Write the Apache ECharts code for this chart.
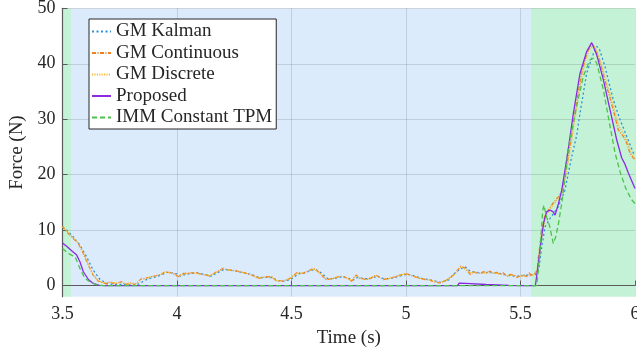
<!DOCTYPE html>
<html>
<head>
<meta charset="utf-8">
<script src="https://cdn.jsdelivr.net/npm/echarts@6/dist/echarts.min.js"></script>
<style>html,body{margin:0;padding:0;background:#fff;}#c{width:637px;height:350px;}</style>
</head>
<body>
<div id="c"></div>
<script>
// ---- data ----
const seriesNames = ['GM Kalman', 'GM Continuous', 'GM Discrete', 'Proposed', 'IMM Constant TPM'];
const xTicks = [3.5, 4, 4.5, 5, 5.5, 6];
const yTicks = [0, 10, 20, 30, 40, 50];
// background regions [start, end] in seconds
const greenRegions = [[3.5, 3.537], [5.546, 6.0]];
const blueRegions = [[3.537, 5.546]];

const tContinuous = [3.500,3.518,3.547,3.569,3.591,3.613,3.634,3.656,3.678,3.693,3.707,3.722,3.737,3.749,3.759,3.770,3.780,3.792,3.802,3.813,3.824,3.835,3.846,3.857,3.868,3.883,3.897,3.912,3.926,3.937,3.948,3.962,3.977,3.991,4.006,4.017,4.028,4.042,4.064,4.086,4.100,4.115,4.130,4.144,4.158,4.173,4.188,4.202,4.217,4.231,4.253,4.275,4.297,4.319,4.337,4.355,4.373,4.392,4.414,4.425,4.435,4.450,4.464,4.479,4.493,4.508,4.523,4.537,4.552,4.566,4.581,4.595,4.610,4.624,4.638,4.653,4.668,4.683,4.697,4.712,4.727,4.741,4.752,4.763,4.772,4.782,4.790,4.799,4.814,4.828,4.848,4.869,4.885,4.901,4.915,4.930,4.952,4.974,4.985,4.996,5.014,5.032,5.046,5.061,5.083,5.105,5.119,5.134,5.148,5.163,5.178,5.192,5.207,5.218,5.228,5.239,5.250,5.261,5.272,5.281,5.294,5.308,5.323,5.337,5.352,5.366,5.381,5.395,5.410,5.425,5.440,5.455,5.469,5.484,5.498,5.512,5.527,5.538,5.549,5.556,5.563,5.573,5.578,5.593,5.607,5.621,5.643,5.665,5.680,5.694,5.709,5.723,5.738,5.752,5.767,5.781,5.796,5.814,5.826,5.840,5.858,5.876,5.891,5.905,5.927,5.949,5.964,5.978,5.993,6.000];
const vContinuous = [10.7,9.7,8.5,7.6,5.8,3.7,1.9,0.8,0.5,0.3,0.7,0.4,0.4,0.6,0.7,0.3,0.2,0.5,0.5,0.2,0.4,0.9,1.3,1.2,1.4,1.5,1.7,1.8,2.0,2.2,2.5,2.4,2.3,2.0,1.6,1.9,2.2,2.2,2.3,2.3,2.1,2.0,1.9,1.7,2.1,2.5,2.8,3.1,2.9,2.8,2.7,2.5,2.3,2.0,1.7,1.3,1.5,1.6,1.6,1.2,0.8,0.9,0.8,1.0,1.3,1.8,2.3,2.3,2.2,2.5,2.8,3.1,2.8,2.2,1.6,1.0,1.2,1.3,1.5,1.7,1.6,1.4,1.1,0.8,1.4,1.9,1.6,1.3,1.2,1.1,1.4,1.9,1.5,1.1,1.2,1.3,1.6,1.9,2.0,2.2,2.0,1.7,1.5,1.3,1.1,1.0,0.7,0.6,0.5,0.7,1.0,1.5,1.9,2.5,2.9,3.5,3.3,3.1,2.5,2.0,2.5,2.3,2.2,2.5,2.3,2.6,2.2,2.4,2.0,2.3,1.7,2.0,1.9,1.5,1.7,2.0,1.6,2.3,1.7,1.8,2.2,2.8,5.0,10.0,12.7,13.6,14.9,16.0,16.9,19.6,23.3,27.0,31.1,34.8,38.3,40.6,42.5,43.5,42.8,41.3,38.7,35.9,33.8,31.7,28.1,26.9,25.7,23.9,23.0,22.7];

const tDiscrete = [3.500,3.518,3.547,3.569,3.591,3.613,3.634,3.656,3.678,3.707,3.737,3.759,3.780,3.802,3.824,3.846,3.868,3.897,3.926,3.948,3.977,4.006,4.028,4.064,4.100,4.144,4.173,4.202,4.231,4.275,4.319,4.355,4.392,4.414,4.435,4.464,4.493,4.523,4.552,4.581,4.595,4.624,4.653,4.683,4.712,4.741,4.763,4.782,4.799,4.828,4.869,4.901,4.930,4.974,4.996,5.032,5.061,5.105,5.148,5.178,5.207,5.228,5.239,5.250,5.272,5.294,5.323,5.352,5.381,5.410,5.440,5.469,5.498,5.527,5.549,5.563,5.573,5.580,5.595,5.609,5.623,5.645,5.667,5.682,5.696,5.711,5.725,5.740,5.754,5.769,5.783,5.798,5.816,5.828,5.842,5.860,5.878,5.893,5.907,5.929,5.951,5.966,5.980,5.995,6.000];
const vDiscrete = [10.6,9.8,8.6,7.7,5.9,3.8,2.0,0.9,0.5,0.6,0.5,0.6,0.3,0.4,0.4,1.2,1.4,1.7,2.0,2.4,2.3,1.7,2.1,2.3,2.1,1.8,2.4,3.0,2.8,2.5,2.0,1.4,1.6,1.5,0.9,0.9,1.3,2.2,2.3,2.8,3.0,2.2,1.1,1.3,1.7,1.4,0.9,1.8,1.3,1.1,1.8,1.2,1.3,1.9,2.1,1.7,1.3,1.0,0.6,1.0,1.8,2.8,3.4,3.2,2.4,2.4,2.2,2.3,2.3,2.1,1.8,1.9,1.7,1.7,1.8,2.1,2.6,4.5,9.2,12.2,13.4,14.7,15.8,16.8,19.3,23.0,26.6,30.6,34.4,37.9,40.3,42.3,43.3,42.7,41.4,38.9,36.3,34.3,32.2,28.8,27.4,26.1,24.2,23.2,22.8];

const tKalman = [3.500,3.518,3.547,3.576,3.605,3.634,3.664,3.693,3.720,3.750,3.780,3.810,3.835,3.850,3.868,3.890,3.912,3.935,3.958,3.980,4.000,4.015,4.035,4.060,4.090,4.120,4.150,4.180,4.205,4.230,4.260,4.290,4.325,4.360,4.395,4.420,4.440,4.470,4.500,4.530,4.560,4.590,4.605,4.630,4.660,4.690,4.720,4.750,4.770,4.790,4.810,4.840,4.875,4.905,4.935,4.980,5.005,5.040,5.070,5.110,5.150,5.185,5.207,5.236,5.258,5.280,5.300,5.330,5.360,5.390,5.420,5.450,5.480,5.510,5.540,5.565,5.580,5.593,5.607,5.629,5.665,5.694,5.724,5.745,5.760,5.789,5.818,5.833,5.845,5.869,5.905,5.935,5.964,5.993,6.000];
const vKalman = [10.5,10.0,8.8,7.3,5.2,2.8,1.1,0.4,0.2,0.2,0.2,0.1,0.3,0.7,1.1,1.4,1.6,2.0,2.4,2.3,2.1,1.7,2.0,2.2,2.3,2.0,1.7,2.4,2.9,2.8,2.6,2.3,2.0,1.4,1.5,1.4,0.9,0.8,1.2,2.1,2.3,2.8,2.9,2.3,1.2,1.3,1.6,1.3,1.0,1.5,1.3,1.2,1.7,1.2,1.3,1.8,2.1,1.7,1.3,1.0,0.6,1.0,2.0,3.0,3.4,2.6,2.4,2.3,2.4,2.3,2.1,1.8,1.7,1.8,1.9,2.0,3.0,7.0,10.6,12.1,14.2,17.2,23.3,27.0,31.1,38.3,41.8,43.1,42.6,39.5,33.5,29.9,26.9,23.9,23.6];

const tProposed = [3.500,3.518,3.540,3.562,3.576,3.591,3.613,3.634,3.660,3.690,5.225,5.232,5.260,5.350,5.450,5.500,5.565,5.578,5.592,5.602,5.614,5.629,5.643,5.651,5.666,5.680,5.695,5.710,5.731,5.760,5.789,5.811,5.833,5.862,5.891,5.920,5.942,5.955,5.971,6.000];
const vProposed = [7.7,7.1,6.3,5.5,4.3,2.5,1.1,0.4,0.05,0,0,0.45,0.4,0.2,0.05,0,0,4.0,8.8,11.5,13.3,13.6,13.3,12.7,14.8,17.2,21.0,25.0,31.1,38.3,42.2,43.8,41.6,37.1,31.7,26.3,23.0,22.0,20.3,17.5];

const tIMM = [3.500,3.525,3.555,3.576,3.598,3.627,3.656,3.690,5.571,5.585,5.597,5.602,5.614,5.628,5.643,5.654,5.665,5.680,5.695,5.710,5.745,5.774,5.803,5.818,5.833,5.862,5.891,5.913,5.935,5.960,5.985,6.000];
const vIMM = [6.7,5.8,5.2,3.1,1.3,0.5,0.05,0,0,6.0,13.5,14.5,12.4,10.6,7.6,8.8,11.0,14.8,19.6,25.0,32.3,37.7,40.7,41.0,40.1,35.3,28.7,23.9,20.5,17.5,15.5,14.8];

// ---- chart ----
function pairs(t, v) { return t.map((x, i) => [x, v[i]]); }
const FONT = 'Liberation Serif';
const TXT = '#262626';

const styles = [
  { color: '#2f8fd8', type: [2, 2.5], width: 1.3 },
  { color: '#f07f1f', type: [4, 1.5, 1, 1.5], width: 1.3 },
  { color: '#f2bd3a', type: [1.2, 1.2], width: 1.2 },
  { color: '#8a2be2', type: 'solid', width: 1.3 },
  { color: '#4cc24c', type: [5, 3], width: 1.3 }
];
const datasets = [pairs(tKalman, vKalman), pairs(tContinuous, vContinuous), pairs(tDiscrete, vDiscrete), pairs(tProposed, vProposed), pairs(tIMM, vIMM)];

const series = [{
  type: 'line', name: 'bg', data: [], silent: true,
  markArea: {
    silent: true, z: 1,
    data: greenRegions.map(r => [{ xAxis: r[0], itemStyle: { color: '#c4f2d7' } }, { xAxis: r[1] }])
      .concat(blueRegions.map(r => [{ xAxis: r[0], itemStyle: { color: '#dcebfc' } }, { xAxis: r[1] }]))
  }
}];
seriesNames.forEach((n, i) => {
  series.push({
    type: 'line', name: n, data: datasets[i], symbol: 'none', showSymbol: false,
    lineStyle: { color: styles[i].color, type: styles[i].type, width: styles[i].width },
    itemStyle: { color: styles[i].color },
    animation: false, z: 2 + i * 0.1
  });
});

const chart = echarts.init(document.getElementById('c'), null, { renderer: 'canvas' });
chart.setOption({
  animation: false,
  grid: { left: 62.5, right: 2, top: 8.3, bottom: 53.3, containLabel: false, outerBoundsMode: 'none' },
  legend: {
    show: true, z: 10,
    data: seriesNames, orient: 'vertical', left: 89, top: 19,
    backgroundColor: '#ffffff', borderColor: '#262626', borderWidth: 1, borderRadius: 0,
    padding: [3, 4, 2, 2], itemGap: 2.5, itemWidth: 19, itemHeight: 10,
    itemStyle: { color: 'rgba(0,0,0,0)', borderWidth: 0, borderColor: 'rgba(0,0,0,0)' },
    textStyle: { fontFamily: FONT, fontSize: 19, color: TXT, lineHeight: 19 }
  },
  xAxis: {
    type: 'value', min: 3.5, max: 6, interval: 0.5, z: 1.5,
    name: 'Time (s)', nameLocation: 'middle', nameGap: 32,
    nameTextStyle: { fontFamily: FONT, fontSize: 19, color: TXT },
    axisLine: { show: true, lineStyle: { color: '#5a5a5a', width: 1.2 } },
    axisTick: { show: true, inside: true, length: 5, lineStyle: { color: '#5a5a5a' } },
    axisLabel: { fontFamily: FONT, fontSize: 18, color: TXT, margin: 9, formatter: v => String(v) },
    splitLine: { show: true, lineStyle: { color: 'rgba(38,38,38,0.15)', width: 1 } }
  },
  yAxis: {
    type: 'value', min: -2, max: 50, z: 1.5,
    name: 'Force (N)', nameLocation: 'middle', nameGap: 36,
    nameTextStyle: { fontFamily: FONT, fontSize: 19, color: TXT },
    axisLine: { show: true, lineStyle: { color: '#5a5a5a', width: 1.2 } },
    axisTick: { show: true, inside: true, length: 5, customValues: yTicks, lineStyle: { color: '#5a5a5a' } },
    axisLabel: { fontFamily: FONT, fontSize: 18, color: TXT, margin: 7, customValues: yTicks },
    splitLine: { show: true, lineStyle: { color: 'rgba(38,38,38,0.15)', width: 1 } }
  },
  series: series
});
</script>
</body>
</html>
